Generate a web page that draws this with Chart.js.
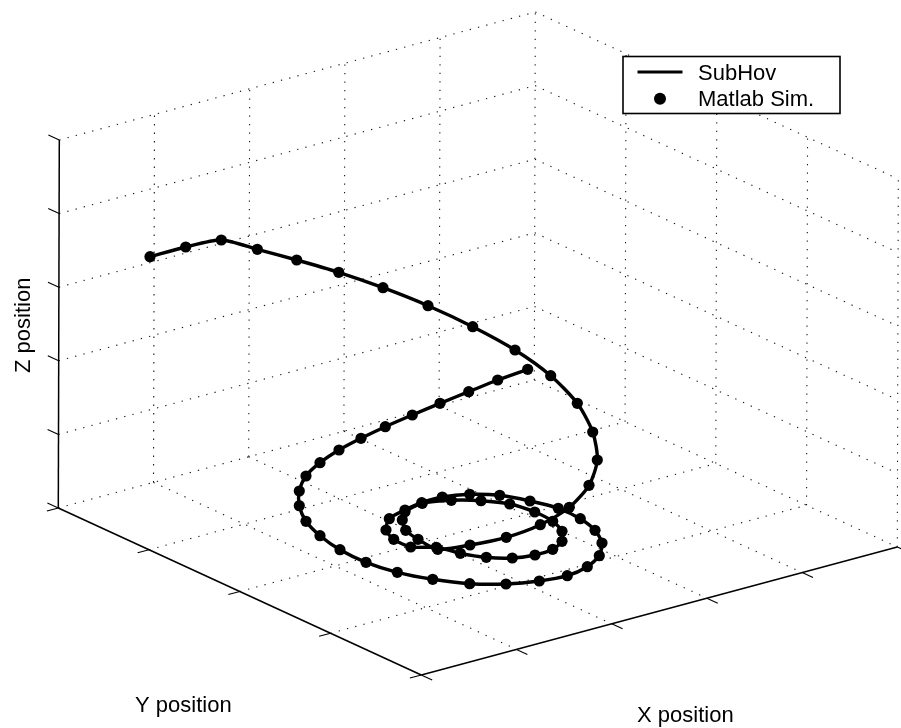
<!DOCTYPE html>
<html>
<head>
<meta charset="utf-8">
<title>SubHov vs Matlab Sim.</title>
<script src="https://cdn.jsdelivr.net/npm/chart.js@4"></script>
<style>
html,body{margin:0;padding:0;background:#fff;}
canvas{display:block;}
</style>
</head>
<body>
<canvas id="c" width="901" height="728"></canvas>
<script>
// Trajectory (projected plane coordinates)
const pathX = [527.7,497.7,468.7,440,412.3,385.3,361,339,320,306,299.3,299.3,306,320,340,366,397.3,432.7,469.7,506,539.3,567.3,587.3,599.3,602,595,580.3,558.3,530,499.7,469.7,442.3,421.7,405,389.3,386,393.7,410.7,436.3,460.3,486.3,512.3,535,552.7,562,562,552.7,534.7,509.7,481,451.3,422.3,405,402.3,405.7,418,437.7,470,506.3,540.3,569.3,589,597.3,592.7,577.3,550.7,515,472.7,428,383,338.7,296.7,257.3,221.3,185.7,150];
const pathY = [369.3,380,391.7,403.3,415,426.7,438.3,450,462.7,476,491,505.7,521.3,535.7,549.7,562.3,572.3,579.3,583.7,584,581,575.7,566.7,555.7,543,530.3,518.7,508.3,501,495.3,494.3,497,502.7,510,518.7,530,539.3,547,547.3,553.3,557.3,558,555,549.3,541.3,531.3,521.3,512,504,500.7,500.3,503.3,511.7,520,530.3,539.3,549.3,545,537.3,524.7,507.3,485.3,460,432,403.3,375.7,350,326.7,305.7,287.7,272.3,260,249.3,240,247,256.7];

// Axis ticks (grid counts of the unlabelled 3D box)
const xTicks = [0,1,2,3,4,5];
const yTicks = [0,1,2,3,4];
const zTicks = [0,1,2,3,4,5];

// Projection of the box onto the page plane
const origin = [58.3,508];
const xUnit = [95.2,-25.6];
const yUnit = [90.75,41.75];
const zUnit = [0.2,-73.6];

const seriesLine = "SubHov";
const seriesDots = "Matlab Sim.";
const xLabel = "X position";
const yLabel = "Y position";
const zLabel = "Z position";

const P = (i,j,k) => ({
  x: origin[0] + i*xUnit[0] + j*yUnit[0] + k*zUnit[0],
  y: origin[1] + i*xUnit[1] + j*yUnit[1] + k*zUnit[1]
});
const iMax = xTicks[xTicks.length-1], jMax = yTicks[yTicks.length-1], kMax = zTicks[zTicks.length-1];
const TICK = 0.12;

const datasets = [];
const dotted = (a,b) => datasets.push({data:[a,b],showLine:true,pointRadius:0,borderColor:'rgba(10,10,10,0.95)',borderWidth:1.1,borderDash:[1.3,7.2],order:5,fill:false,clip:false});
const solid = (a,b,w) => datasets.push({data:[a,b],showLine:true,pointRadius:0,borderColor:'#000',borderWidth:w,order:4,fill:false,clip:false});

// floor
xTicks.slice(1).forEach(i => dotted(P(i,0,0),P(i,jMax,0)));
yTicks.slice(0,-1).forEach(j => dotted(P(0,j,0),P(iMax,j,0)));
// back-left wall
xTicks.slice(1).forEach(i => dotted(P(i,0,0),P(i,0,kMax)));
zTicks.slice(1).forEach(k => dotted(P(0,0,k),P(iMax,0,k)));
// back-right wall
yTicks.slice(1).forEach(j => dotted(P(iMax,j,0),P(iMax,j,kMax)));
zTicks.slice(1).forEach(k => dotted(P(iMax,0,k),P(iMax,jMax,k)));

// solid axes
solid(P(0,0,0),P(0,0,kMax),1.5);
solid(P(0,0,0),P(0,jMax,0),1.5);
solid(P(0,jMax,0),P(iMax,jMax,0),1.5);
// ticks
xTicks.forEach(i => solid(P(i,jMax,0),P(i,jMax+TICK,0),1.1));
yTicks.forEach(j => solid(P(0,j,0),P(-TICK,j,0),1.1));
zTicks.forEach(k => solid(P(0,0,k),P(0,-TICK,k),1.1));

const pathPoints = pathX.map((x,i)=>({x,y:pathY[i]}));
datasets.push({label:seriesLine,data:pathPoints,showLine:true,pointRadius:0,borderColor:'#000',borderWidth:3.4,tension:0.25,order:2,fill:false,clip:false});
datasets.push({label:seriesDots,data:pathPoints,showLine:false,pointRadius:5.6,pointBackgroundColor:'#000',pointBorderWidth:0,order:1,clip:false});

const annotate = {
  id:'annotate',
  afterDatasetsDraw(chart){
    const c = chart.ctx;
    c.save();
    c.font = '22px "Liberation Sans", Arial, sans-serif';
    c.textBaseline = 'alphabetic'; c.textAlign = 'left';
    // legend
    c.fillStyle = '#fff'; c.fillRect(623,56,217,58);
    c.strokeStyle = '#000'; c.lineWidth = 1.6; c.strokeRect(623,56.5,217,57);
    c.lineWidth = 3; c.beginPath(); c.moveTo(637.5,72); c.lineTo(682.5,72); c.stroke();
    c.fillStyle = '#000';
    c.beginPath(); c.arc(660,98.7,6,0,Math.PI*2); c.fill();
    c.fillText(seriesLine,698,79.5);
    c.fillText(seriesDots,698,106);
    // axis labels
    c.fillText(yLabel,135,711.5);
    c.fillText(xLabel,637,721.5);
    c.translate(30,373); c.rotate(-Math.PI/2);
    c.fillText(zLabel,0,0);
    c.restore();
  }
};

new Chart(document.getElementById('c'),{
  type:'scatter',
  data:{datasets},
  options:{
    responsive:false,
    animation:false,
    events:[],
    layout:{padding:0,autoPadding:false},
    plugins:{legend:{display:false},tooltip:{enabled:false},title:{display:false}},
    scales:{
      x:{type:'linear',min:0,max:901,display:false},
      y:{type:'linear',min:0,max:728,reverse:true,display:false}
    }
  },
  plugins:[annotate]
});
</script>
</body>
</html>
